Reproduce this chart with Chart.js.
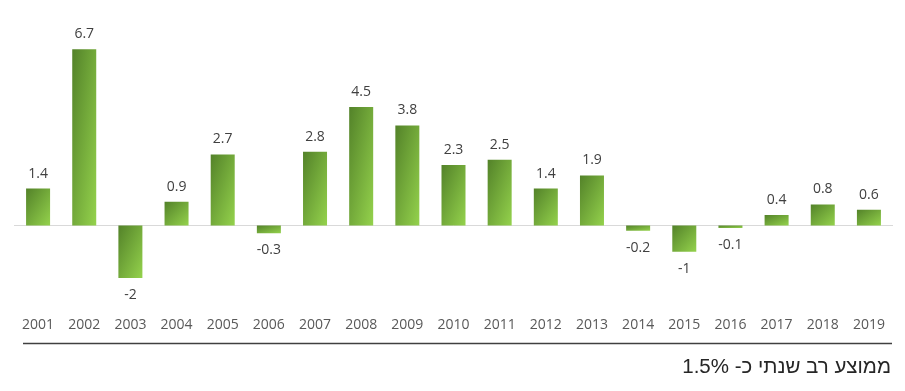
<!DOCTYPE html>
<html>
<head>
<meta charset="utf-8">
<script src="https://cdn.jsdelivr.net/npm/chart.js@4/dist/chart.umd.min.js"></script>
<style>
  body { margin: 0; background: #fff; }
</style>
</head>
<body>
<canvas id="chart1" width="905" height="391"></canvas>
<script>
// data
const years = ['2001','2002','2003','2004','2005','2006','2007','2008','2009','2010',
               '2011','2012','2013','2014','2015','2016','2017','2018','2019'];
const values = [1.4, 6.7, -2, 0.9, 2.7, -0.3, 2.8, 4.5, 3.8, 2.3,
                2.5, 1.4, 1.9, -0.2, -1, -0.1, 0.4, 0.8, 0.6];
const footText = 'ממוצע רב שנתי כ- 1.5%';

const barPct = 0.52;

// corner to corner gradient per bar (scaled with the shape), from the scales after layout
function barColor(c) {
  const chart = c.chart;
  const x = chart.scales.x, y = chart.scales.y;
  if (!chart.chartArea || !x || !y || c.dataIndex === undefined) return '#7ab03e';
  const v = values[c.dataIndex];
  const cx = x.getPixelForValue(c.dataIndex);
  const w = (x.width / years.length) * barPct;
  const left = cx - w / 2;
  const top = Math.min(y.getPixelForValue(v), y.getPixelForValue(0));
  const h = Math.max(1, Math.abs(y.getPixelForValue(v) - y.getPixelForValue(0)));
  const s = 2 * w * h / (w * w + h * h);
  const g = chart.ctx.createLinearGradient(left, top, left + s * h, top + s * w);
  g.addColorStop(0, '#538229');
  g.addColorStop(1, '#94d24c');
  return g;
}

const extras = {
  id: 'extras',
  beforeDatasetsDraw(chart) {
    const ctx = chart.ctx, a = chart.chartArea;
    const y0 = Math.round(chart.scales.y.getPixelForValue(0)) + 0.5;
    ctx.save();
    ctx.strokeStyle = '#d9d9d9';
    ctx.lineWidth = 1;
    ctx.beginPath();
    ctx.moveTo(a.left - 1, y0);
    ctx.lineTo(a.right + 1, y0);
    ctx.stroke();
    ctx.restore();
  },
  afterDatasetsDraw(chart) {
    const ctx = chart.ctx;
    const meta = chart.getDatasetMeta(0);
    ctx.save();
    ctx.font = '14px "Open Sans", sans-serif';
    ctx.fillStyle = '#404040';
    ctx.textAlign = 'center';
    ctx.textBaseline = 'middle';
    meta.data.forEach((el, i) => {
      const v = values[i];
      const ly = v >= 0 ? el.y - 15 : el.y + 17;
      ctx.fillText(String(v), el.x, ly);
    });
    ctx.restore();
  },
  afterDraw(chart) {
    const ctx = chart.ctx;
    ctx.save();
    ctx.strokeStyle = '#404040';
    ctx.lineWidth = 1.3;
    ctx.beginPath();
    ctx.moveTo(23, 343.5);
    ctx.lineTo(892, 343.5);
    ctx.stroke();
    ctx.direction = 'rtl';
    ctx.textAlign = 'right';
    ctx.textBaseline = 'alphabetic';
    ctx.fillStyle = '#262626';
    ctx.font = '20.5px "Liberation Sans", "DejaVu Sans", sans-serif';
    ctx.fillText(footText, 891, 373);
    ctx.restore();
  }
};

let chart1 = new Chart(document.getElementById('chart1'), {
  type: 'bar',
  data: {
    labels: years,
    datasets: [{
      data: values,
      backgroundColor: barColor,
      borderWidth: 0,
      barPercentage: barPct,
      categoryPercentage: 1
    }]
  },
  options: {
    responsive: false,
    animation: false,
    devicePixelRatio: 1,
    layout: { padding: { left: 15, right: 13, top: 15, bottom: 51 } },
    plugins: { legend: { display: false }, tooltip: { enabled: false } },
    scales: {
      x: {
        grid: { display: false },
        border: { display: false },
        ticks: {
          color: '#595959',
          padding: 7,
          font: { family: '"Open Sans", sans-serif', size: 14 },
          maxRotation: 0
        }
      },
      y: { display: false, min: -2.88, max: 8 }
    }
  },
  plugins: [extras]
});
</script>
</body>
</html>
